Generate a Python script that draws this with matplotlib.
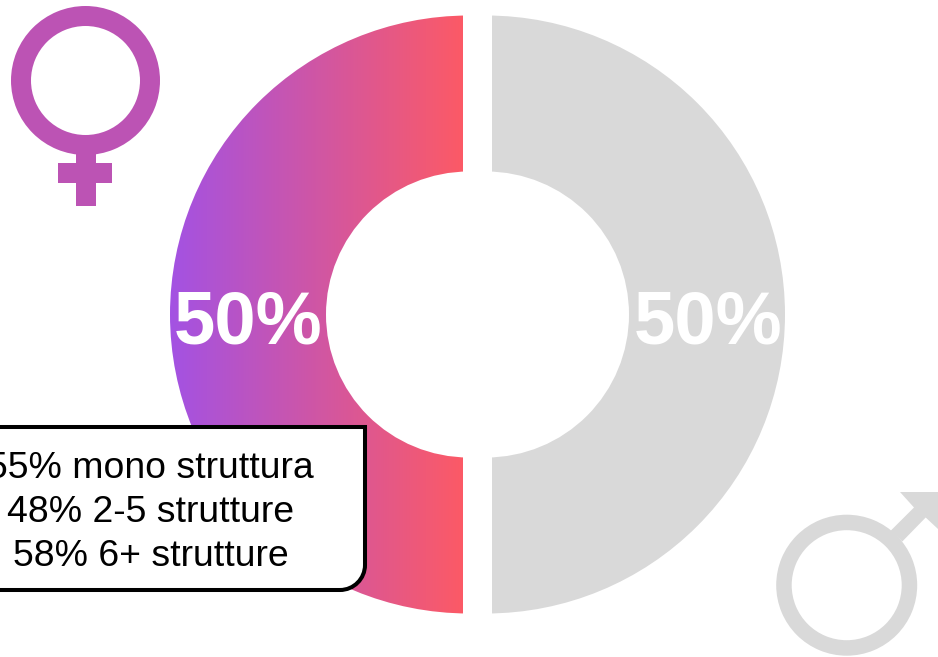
import numpy as np
import matplotlib
matplotlib.use("Agg")
import matplotlib.pyplot as plt
from matplotlib.colors import LinearSegmentedColormap
from matplotlib.patches import Rectangle, Polygon, PathPatch, Annulus
from matplotlib.path import Path

plt.rcParams["font.family"] = ["Liberation Sans", "DejaVu Sans"]

# Gender split
shares = [50, 50]
share_labels = ["50%", "50%"]
breakdown = ["55% mono struttura", "48% 2-5 strutture", "58% 6+ strutture"]

GREY = "#D9D9D9"
PINK = "#BC53B4"
H = 657

fig = plt.figure(figsize=(9.38, 6.57), dpi=100)
ax = fig.add_axes([0, 0, 1, 1])


def fy(y):
    """Convert a top-down canvas row to the axes' bottom-up coordinate."""
    return H - y


# Doughnut, with the two halves pulled apart (explode is in data units here)
cx, cy = 477.5, fy(314.5)
radius, hole = 299, 143
wedges, _ = ax.pie(
    shares, startangle=90, counterclock=True, center=(cx, cy), radius=radius,
    explode=[8.5, 8.5], colors=["none", GREY],
    wedgeprops=dict(width=radius - hole, linewidth=0), frame=True,
)

# Left half carries a horizontal purple-to-coral gradient
cmap = LinearSegmentedColormap.from_list("fem", ["#A352E3", "#FC5A66"])
grad = ax.imshow(
    np.linspace(0, 1, 512).reshape(1, -1), cmap=cmap, aspect="auto",
    extent=(170, 463, fy(614), fy(15)), zorder=1.5, interpolation="bilinear",
)
grad.set_clip_path(wedges[0])

# Straight gap between the halves
ax.add_patch(Rectangle((463, 0), 29, H, fc="white", ec="none", zorder=2))

ax.text(248.5, fy(317), share_labels[0], color="white", fontsize=53.5, fontweight="bold",
        ha="center", va="center_baseline", zorder=3)
ax.text(708.5, fy(317), share_labels[1], color="white", fontsize=53.5, fontweight="bold",
        ha="center", va="center_baseline", zorder=3)

# Venus symbol
ax.add_patch(Annulus((85.5, fy(80.5)), 74.5, 20, fc=PINK, ec="none"))
ax.add_patch(Rectangle((75.5, fy(206)), 20, 52, fc=PINK, ec="none"))
ax.add_patch(Rectangle((58, fy(183)), 54, 20, fc=PINK, ec="none"))

# Mars symbol, running off the canvas
ax.add_patch(Annulus((846.7, fy(585.2)), 70.5, 15.5, fc=GREY, ec="none"))
ax.add_patch(Polygon(
    [(890.7, fy(530.7)), (914, fy(507.5)), (900, fy(492)), (950, fy(492)),
     (950, fy(541)), (938, fy(529)), (925.7, fy(517.5)), (902.3, fy(541.5))],
    closed=True, fc=GREY, ec="none"))

# Callout box: only the lower right corner is rounded
left, right, top, bottom, r = -20, 365, fy(427), fy(590), 25
k = 0.55 * r
verts = [(left, top), (right, top), (right, bottom + r),
         (right, bottom + r - k), (right - r + k, bottom), (right - r, bottom),
         (left, bottom), (left, top)]
codes = [Path.MOVETO, Path.LINETO, Path.LINETO,
         Path.CURVE4, Path.CURVE4, Path.CURVE4,
         Path.LINETO, Path.CLOSEPOLY]
ax.add_patch(PathPatch(Path(verts, codes), fc="white", ec="black", lw=2.9, zorder=4))

for row, line in zip((468, 512.5, 557), breakdown):
    ax.text(150.5, fy(row), line, color="black", fontsize=26.9, ha="center", va="center", zorder=5)

ax.set_xlim(0, 938)
ax.set_ylim(0, H)
ax.axis("off")
fig.savefig("out.png", dpi=100, facecolor="white")
